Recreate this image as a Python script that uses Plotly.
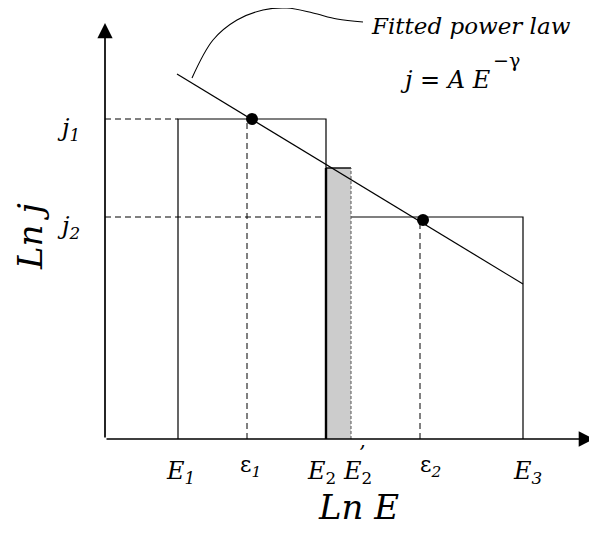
import plotly.graph_objects as go

# schematic values, in axis units (origin where the two axes cross)
E_EDGES = [73, 221, 418]          # E1, E2, E3
E2_PRIME = 246
EPS = [142, 315]                  # epsilon_1, epsilon_2
J_LEVELS = [320, 222]             # j1, j2
GRAY_TOP = 271
FIT_X = [72, 418]
FIT_Y = [365, 155]
DOT_X = [147, 318]
DOT_Y = [320, 219]
CALLOUT_X = [87, 108, 132, 158, 182, 208, 232, 258]
CALLOUT_Y = [361, 399, 419, 429, 431, 426, 420, 417]

E_TICKS = [
    (E_EDGES[0] + 2, "<i>E<sub>1</sub></i>"),
    (E_EDGES[1] - 5, "<i>E</i><sub>2</sub>"),
    (E2_PRIME + 6, "<i>E</i><sub>2</sub>"),
    (E_EDGES[2] + 4, "<i>E<sub>3</sub></i>"),
]
EPS_TICKS = [(EPS[0] + 3, "ε<i><sub>1</sub></i>"), (EPS[1] + 10, "ε<i><sub>2</sub></i>")]
Y_TICKS = [(J_LEVELS[0], "<i>j<sub>1</sub></i>"), (J_LEVELS[1], "<i>j<sub>2</sub></i>")]

FONT = "DejaVu Serif"
INK = "black"

fig = go.Figure()

# two histogram bins
fig.add_trace(go.Scatter(
    x=[E_EDGES[0], E_EDGES[0], E_EDGES[1], E_EDGES[1]], y=[0, J_LEVELS[0], J_LEVELS[0], 0],
    mode="lines", line=dict(color=INK, width=1.2), hoverinfo="skip"))
fig.add_trace(go.Scatter(
    x=[E_EDGES[1], E_EDGES[1], E_EDGES[2], E_EDGES[2]], y=[0, J_LEVELS[1], J_LEVELS[1], 0],
    mode="lines", line=dict(color=INK, width=1.2), hoverinfo="skip"))

# shaded sliver E2 .. E2'
fig.add_trace(go.Scatter(
    x=[E_EDGES[1], E_EDGES[1], E2_PRIME, E2_PRIME, E_EDGES[1]],
    y=[0, GRAY_TOP, GRAY_TOP, 0, 0],
    mode="none", fill="toself", fillcolor="#cccccc", hoverinfo="skip"))
fig.add_trace(go.Scatter(
    x=[E_EDGES[1], E_EDGES[1]], y=[0, GRAY_TOP],
    mode="lines", line=dict(color=INK, width=2.4), hoverinfo="skip"))
fig.add_trace(go.Scatter(
    x=[E_EDGES[1], E2_PRIME], y=[GRAY_TOP, GRAY_TOP],
    mode="lines", line=dict(color=INK, width=1.4), hoverinfo="skip"))
fig.add_trace(go.Scatter(
    x=[E2_PRIME, E2_PRIME], y=[0, GRAY_TOP],
    mode="lines", line=dict(color="#555555", width=1, dash="3px,2px"), hoverinfo="skip"))

# dashed guides
dash = dict(color=INK, width=1, dash="6px,4px")
fig.add_trace(go.Scatter(x=[0, E_EDGES[0]], y=[J_LEVELS[0]] * 2, mode="lines",
                         line=dash, hoverinfo="skip"))
fig.add_trace(go.Scatter(x=[0, E_EDGES[1]], y=[J_LEVELS[1]] * 2, mode="lines",
                         line=dash, hoverinfo="skip"))
for ex, jy in zip(EPS, DOT_Y):
    fig.add_trace(go.Scatter(x=[ex, ex], y=[0, jy], mode="lines",
                             line=dash, hoverinfo="skip"))

# fitted power law
fig.add_trace(go.Scatter(x=FIT_X, y=FIT_Y, mode="lines",
                         line=dict(color=INK, width=1.2), hoverinfo="skip"))
fig.add_trace(go.Scatter(x=DOT_X, y=DOT_Y, mode="markers",
                         marker=dict(color=INK, size=12), hoverinfo="skip"))
fig.add_trace(go.Scatter(x=CALLOUT_X, y=CALLOUT_Y, mode="lines",
                         line=dict(color=INK, width=1.1, shape="spline"), hoverinfo="skip"))

# axes with arrows
for tip, tail in [((489, 0), (0, 0)), ((0, 416), (0, 0))]:
    fig.add_annotation(x=tip[0], y=tip[1], ax=tail[0], ay=tail[1], xref="x", yref="y",
                       axref="x", ayref="y", text="", showarrow=True, arrowhead=2,
                       arrowsize=1.8, arrowwidth=1.7, arrowcolor=INK)

txt = dict(showarrow=False, font=dict(family=FONT, size=24, color=INK), xref="x", yref="y")
for xv, lab in E_TICKS:
    fig.add_annotation(x=xv, y=-33, text=lab, **txt)
for xv, lab in EPS_TICKS:
    fig.add_annotation(x=xv, y=-27, text=lab, showarrow=False, xref="x", yref="y",
                       font=dict(family=FONT, size=22, color=INK))
fig.add_annotation(x=E2_PRIME + 11, y=-14, text="<i>’</i>",
                   showarrow=False, xref="x", yref="y",
                   font=dict(family=FONT, size=20, color=INK))
for yv, lab in Y_TICKS:
    fig.add_annotation(x=-37, y=yv - 10, text=lab, **txt)

big = dict(family=FONT, size=34, color=INK)
fig.add_annotation(x=253, y=-68, text="<i>Ln E</i>", showarrow=False, xref="x", yref="y",
                   font=big)
fig.add_annotation(x=-75, y=202, text="<i>Ln j</i>", textangle=-90, showarrow=False,
                   xref="x", yref="y", font=big)
fig.add_annotation(x=264, y=413, text="<i>Fitted power law</i>", xanchor="left",
                   showarrow=False, xref="x", yref="y",
                   font=dict(family=FONT, size=23, color=INK))
fig.add_annotation(x=340, y=359, text="<i>j</i> = <i>A E</i>", **txt)
fig.add_annotation(x=401, y=379, text="−γ", showarrow=False, xref="x", yref="y",
                   font=dict(family=FONT, size=19, color=INK))

fig.update_layout(
    width=597, height=534, margin=dict(l=0, r=0, t=0, b=0),
    paper_bgcolor="white", plot_bgcolor="white", showlegend=False,
)
# the page adds an 8px body margin, so the ranges are offset to keep the origin in place
fig.update_xaxes(range=[-97, 500], visible=False, fixedrange=True)
fig.update_yaxes(range=[-103, 431], visible=False, fixedrange=True)

fig.write_html("out.html")
